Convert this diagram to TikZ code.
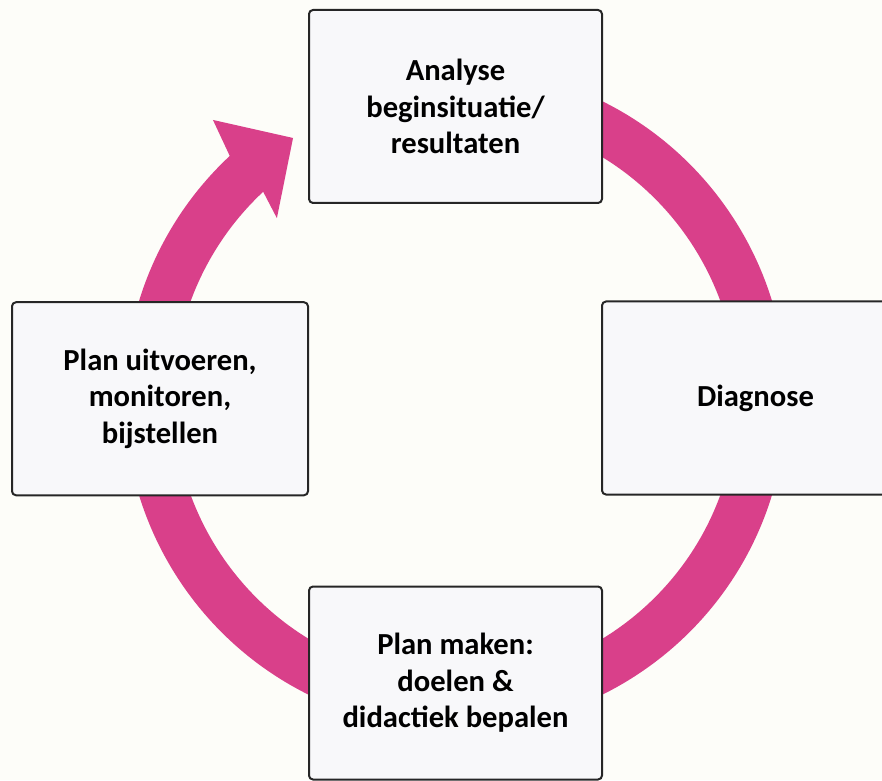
\documentclass[tikz,border=0pt]{standalone}
\usepackage{fontspec}
\setmainfont{Carlito}
\usetikzlibrary{positioning}
\definecolor{ringpink}{RGB}{217,64,138}
\definecolor{boxfill}{RGB}{248,248,250}
\definecolor{paper}{RGB}{253,253,249}

\begin{document}
\begin{tikzpicture}[
  x=1pt, y=1pt, line width=2pt,
  font=\fontsize{30.6}{36.5}\selectfont\bfseries,
  stagebox/.style={rectangle, draw=black!85, fill=boxfill, rounded corners=4pt, minimum width=293, minimum height=193, align=center, inner sep=0pt},
  ring/.style={draw=ringpink, line width=49pt}
]

\fill[paper] (0,0) rectangle (882,780);
\useasboundingbox (0,0) rectangle (882,780);

% cycle ring with arrow head into the first stage
\coordinate (ctr) at (455.5,382);
\draw[ring] (ctr) ++(80:306.5) arc[start angle=80, end angle=-227.5, radius=306.5];
\fill[ringpink, shift={(ctr)}] (133:331) -- (131.1:369) -- (122:306.6) -- (134.8:253.5) -- (133:282) -- cycle;

% the four stages
\node[stagebox] (analyse) at (455.5,673.5) {Analyse\\beginsituatie/\\resultaten};
\node[stagebox, minimum width=307] (diagnose) at (755.5,382) {Diagnose};
\node[stagebox] (planmaken) at (455.5,97) {Plan maken:\\doelen \&\\didactiek bepalen};
\node[stagebox, minimum width=296] (uitvoeren) at (160,381.25) {Plan uitvoeren,\\monitoren,\\bijstellen};

\end{tikzpicture}
\end{document}
